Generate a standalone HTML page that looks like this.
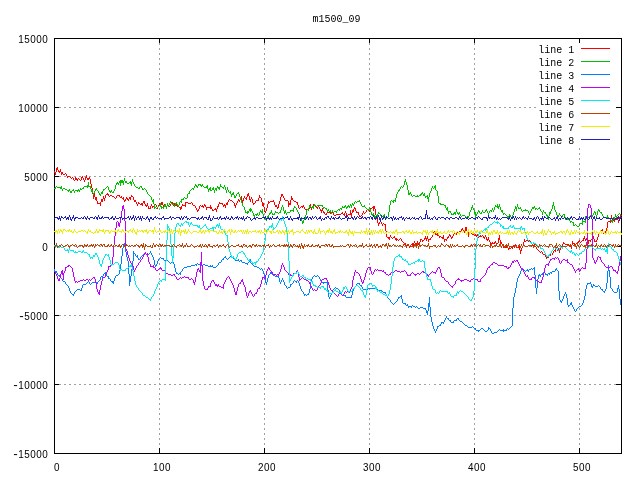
<!DOCTYPE html><html><head><meta charset="utf-8"><title>m1500_09</title><style>html,body{margin:0;padding:0;background:#fff}svg{display:block}text{font-family:"Liberation Mono","DejaVu Sans Mono",monospace;font-size:12px;fill:#000}text.s{font-family:"Liberation Sans","DejaVu Sans",sans-serif;font-size:11px;letter-spacing:0.55px}tspan.m{font-family:"Liberation Mono",monospace;font-size:13px;letter-spacing:-0.8px}</style></head><body>
<svg width="640" height="480" viewBox="0 0 640 480">
<rect width="640" height="480" fill="#fff"/>
<path d="M54 107.5H621M54 176.5H621M54 246.5H621M54 315.5H621M54 384.5H621M159.5 38V453M264.5 38V453M369.5 38V453M474.5 38V453M579.5 38V453" stroke="#a0a0a0" stroke-width="1" stroke-dasharray="1.5 3.5" fill="none" shape-rendering="crispEdges"/>
<rect x="539" y="43" width="82" height="103" fill="#fff"/>
<path d="M54 38.5h5M621 38.5h-5M54 107.5h5M621 107.5h-5M54 176.5h5M621 176.5h-5M54 246.5h5M621 246.5h-5M54 315.5h5M621 315.5h-5M54 384.5h5M621 384.5h-5M54 453.5h5M621 453.5h-5M54.5 453v-5M54.5 38v5M159.5 453v-5M159.5 38v5M264.5 453v-5M264.5 38v5M369.5 453v-5M369.5 38v5M474.5 453v-5M474.5 38v5M579.5 453v-5M579.5 38v5" stroke="#000" stroke-width="1" fill="none" shape-rendering="crispEdges"/>
<rect x="54.5" y="38.5" width="567" height="415" fill="none" stroke="#000" stroke-width="1" shape-rendering="crispEdges"/>
<text class="s" transform="translate(48.2 42.9) scale(0.9 1)" text-anchor="end">15000</text>
<text class="s" transform="translate(48.2 111.9) scale(0.9 1)" text-anchor="end">10000</text>
<text class="s" transform="translate(48.2 180.9) scale(0.9 1)" text-anchor="end">5000</text>
<text class="s" transform="translate(48.2 250.9) scale(0.9 1)" text-anchor="end">0</text>
<text class="s" transform="translate(48.2 319.9) scale(0.9 1)" text-anchor="end"><tspan class="m">-</tspan>5000</text>
<text class="s" transform="translate(48.2 388.9) scale(0.9 1)" text-anchor="end"><tspan class="m">-</tspan>10000</text>
<text class="s" transform="translate(48.2 457.9) scale(0.9 1)" text-anchor="end"><tspan class="m">-</tspan>15000</text>
<text class="s" transform="translate(57.0 471.0) scale(0.9 1)" text-anchor="middle">0</text>
<text class="s" transform="translate(162.0 471.0) scale(0.9 1)" text-anchor="middle">100</text>
<text class="s" transform="translate(267.0 471.0) scale(0.9 1)" text-anchor="middle">200</text>
<text class="s" transform="translate(372.0 471.0) scale(0.9 1)" text-anchor="middle">300</text>
<text class="s" transform="translate(477.0 471.0) scale(0.9 1)" text-anchor="middle">400</text>
<text class="s" transform="translate(582.0 471.0) scale(0.9 1)" text-anchor="middle">500</text>
<text transform="translate(336.5 22.0) scale(0.8333 0.96)" text-anchor="middle">m1500_09</text>
<text transform="translate(574.2 52.6) scale(0.8333 0.96)" text-anchor="end">line 1</text>
<path d="M581 48.5H610" stroke="#ff0000" stroke-width="1" fill="none" shape-rendering="crispEdges"/>
<text transform="translate(574.2 65.6) scale(0.8333 0.96)" text-anchor="end">line 2</text>
<path d="M581 61.5H610" stroke="#00c000" stroke-width="1" fill="none" shape-rendering="crispEdges"/>
<text transform="translate(574.2 78.6) scale(0.8333 0.96)" text-anchor="end">line 3</text>
<path d="M581 74.5H610" stroke="#0080ff" stroke-width="1" fill="none" shape-rendering="crispEdges"/>
<text transform="translate(574.2 91.6) scale(0.8333 0.96)" text-anchor="end">line 4</text>
<path d="M581 87.5H610" stroke="#c000ff" stroke-width="1" fill="none" shape-rendering="crispEdges"/>
<text transform="translate(574.2 104.6) scale(0.8333 0.96)" text-anchor="end">line 5</text>
<path d="M581 100.5H610" stroke="#00eeee" stroke-width="1" fill="none" shape-rendering="crispEdges"/>
<text transform="translate(574.2 117.6) scale(0.8333 0.96)" text-anchor="end">line 6</text>
<path d="M581 113.5H610" stroke="#c04000" stroke-width="1" fill="none" shape-rendering="crispEdges"/>
<text transform="translate(574.2 130.6) scale(0.8333 0.96)" text-anchor="end">line 7</text>
<path d="M581 126.5H610" stroke="#eeee00" stroke-width="1" fill="none" shape-rendering="crispEdges"/>
<text transform="translate(574.2 143.6) scale(0.8333 0.96)" text-anchor="end">line 8</text>
<path d="M581 139.5H610" stroke="#2020c0" stroke-width="1" fill="none" shape-rendering="crispEdges"/>
<path d="M54.5 171v2M55.5 172v3M56.5 168v4M57.5 167v3M58.5 170v2M59.5 171v2M60.5 169v3M61.5 172v3M62.5 172v2M63.5 174v1M64.5 174v1M65.5 173v1M66.5 174v2M67.5 176v2M68.5 176v1M69.5 176v1M70.5 177v1M71.5 178v1M72.5 177v1M73.5 178v2M74.5 180v1M75.5 177v3M76.5 178v2M77.5 179v2M78.5 178v1M79.5 179v1M80.5 180v1M81.5 177v3M82.5 176v2M83.5 178v2M84.5 180v2M85.5 177v3M86.5 175v3M87.5 178v2M88.5 178v2M89.5 177v2M90.5 179v5M91.5 184v4M92.5 188v6M93.5 194v5M94.5 193v4M95.5 197v3M96.5 197v4M97.5 201v3M98.5 203v1M99.5 203v1M100.5 202v4M101.5 199v3M102.5 199v3M103.5 196v3M104.5 198v3M105.5 195v3M106.5 194v1M107.5 193v2M108.5 194v2M109.5 196v1M110.5 195v1M111.5 195v1M112.5 196v1M113.5 196v1M114.5 197v1M115.5 198v1M116.5 196v2M117.5 195v1M118.5 195v1M119.5 195v2M120.5 197v1M121.5 196v2M122.5 198v1M123.5 197v3M124.5 200v2M125.5 199v2M126.5 197v2M127.5 198v2M128.5 199v2M129.5 197v2M130.5 197v3M131.5 195v2M132.5 196v1M133.5 197v3M134.5 200v2M135.5 200v2M136.5 202v2M137.5 204v2M138.5 202v2M139.5 203v1M140.5 204v1M141.5 203v2M142.5 203v3M143.5 201v2M144.5 201v3M145.5 204v2M146.5 205v2M147.5 203v3M148.5 206v3M149.5 208v1M150.5 206v3M151.5 204v2M152.5 206v2M153.5 206v1M154.5 205v1M155.5 204v1M156.5 205v2M157.5 207v2M158.5 205v2M159.5 203v2M160.5 203v1M161.5 202v3M162.5 202v3M163.5 205v2M164.5 204v1M165.5 205v1M166.5 206v2M167.5 204v2M168.5 206v1M169.5 206v1M170.5 204v2M171.5 202v2M172.5 202v2M173.5 204v2M174.5 203v2M175.5 205v1M176.5 204v2M177.5 206v1M178.5 206v1M179.5 207v1M180.5 207v3M181.5 206v3M182.5 204v2M183.5 205v1M184.5 205v1M185.5 202v5M186.5 202v1M187.5 202v1M188.5 203v1M189.5 203v1M190.5 203v1M191.5 202v1M192.5 203v2M193.5 205v1M194.5 205v1M195.5 206v2M196.5 208v2M197.5 210v2M198.5 209v2M199.5 206v3M200.5 205v1M201.5 206v1M202.5 205v2M203.5 206v2M204.5 204v2M205.5 205v2M206.5 207v3M207.5 207v1M208.5 207v1M209.5 207v1M210.5 205v4M211.5 207v2M212.5 209v2M213.5 210v1M214.5 209v1M215.5 208v2M216.5 209v3M217.5 206v3M218.5 204v3M219.5 202v2M220.5 203v1M221.5 203v1M222.5 203v2M223.5 205v2M224.5 204v2M225.5 205v3M226.5 203v2M227.5 202v3M228.5 200v2M229.5 199v1M230.5 200v1M231.5 200v1M232.5 201v1M233.5 202v1M234.5 203v3M235.5 205v3M236.5 203v2M237.5 201v2M238.5 199v2M239.5 200v2M240.5 197v3M241.5 196v4M242.5 200v3M243.5 198v3M244.5 196v2M245.5 198v1M246.5 197v3M247.5 194v3M248.5 193v3M249.5 196v4M250.5 199v3M251.5 197v2M252.5 199v4M253.5 203v2M254.5 203v1M255.5 201v2M256.5 200v1M257.5 200v1M258.5 198v3M259.5 195v3M260.5 197v1M261.5 198v4M262.5 202v4M263.5 203v4M264.5 207v5M265.5 211v2M266.5 208v3M267.5 204v4M268.5 201v3M269.5 202v1M270.5 201v1M271.5 201v1M272.5 201v1M273.5 200v2M274.5 202v3M275.5 205v2M276.5 205v2M277.5 207v2M278.5 204v4M279.5 201v3M280.5 197v4M281.5 194v3M282.5 194v2M283.5 196v2M284.5 198v2M285.5 200v1M286.5 200v1M287.5 200v1M288.5 201v6M289.5 203v2M290.5 200v5M291.5 196v4M292.5 198v2M293.5 200v1M294.5 201v1M295.5 201v1M296.5 202v1M297.5 202v3M298.5 205v3M299.5 208v1M300.5 207v1M301.5 206v1M302.5 206v2M303.5 205v2M304.5 207v2M305.5 209v1M306.5 209v1M307.5 209v1M308.5 209v1M309.5 208v1M310.5 204v4M311.5 207v3M312.5 206v2M313.5 204v2M314.5 204v1M315.5 205v2M316.5 207v1M317.5 207v2M318.5 205v2M319.5 207v2M320.5 209v2M321.5 210v3M322.5 208v3M323.5 211v2M324.5 212v2M325.5 214v1M326.5 213v2M327.5 212v1M328.5 212v1M329.5 212v1M330.5 212v2M331.5 212v1M332.5 211v2M333.5 213v2M334.5 215v1M335.5 215v1M336.5 214v1M337.5 214v1M338.5 214v1M339.5 214v1M340.5 214v1M341.5 213v1M342.5 212v2M343.5 214v1M344.5 213v3M345.5 211v2M346.5 213v2M347.5 215v2M348.5 214v1M349.5 214v1M350.5 210v5M351.5 213v4M352.5 210v3M353.5 209v3M354.5 207v2M355.5 208v3M356.5 211v2M357.5 212v1M358.5 212v3M359.5 215v2M360.5 216v1M361.5 215v1M362.5 213v2M363.5 211v2M364.5 213v1M365.5 212v1M366.5 210v2M367.5 209v1M368.5 209v2M369.5 210v2M370.5 208v2M371.5 208v1M372.5 207v1M373.5 206v5M374.5 206v3M375.5 209v6M376.5 215v4M377.5 219v4M378.5 223v3M379.5 222v2M380.5 221v1M381.5 222v2M382.5 224v2M383.5 223v1M384.5 224v1M385.5 224v7M386.5 231v6M387.5 237v1M388.5 237v2M389.5 237v3M390.5 235v2M391.5 237v1M392.5 238v1M393.5 237v1M394.5 236v2M395.5 238v2M396.5 238v3M397.5 239v1M398.5 240v1M399.5 239v1M400.5 238v1M401.5 239v2M402.5 241v1M403.5 242v1M404.5 243v1M405.5 243v3M406.5 246v2M407.5 245v1M408.5 244v2M409.5 246v2M410.5 245v2M411.5 244v1M412.5 243v2M413.5 243v3M414.5 241v2M415.5 243v2M416.5 243v2M417.5 241v2M418.5 243v2M419.5 242v2M420.5 239v3M421.5 239v1M422.5 240v2M423.5 240v1M424.5 238v2M425.5 236v3M426.5 238v3M427.5 236v3M428.5 239v3M429.5 239v1M430.5 238v2M431.5 237v1M432.5 235v2M433.5 232v3M434.5 231v2M435.5 233v2M436.5 234v1M437.5 233v3M438.5 234v2M439.5 236v2M440.5 236v1M441.5 237v1M442.5 237v2M443.5 235v4M444.5 239v3M445.5 239v1M446.5 239v2M447.5 237v2M448.5 236v2M449.5 234v2M450.5 235v2M451.5 237v2M452.5 236v2M453.5 234v2M454.5 233v1M455.5 233v1M456.5 233v2M457.5 232v1M458.5 232v2M459.5 231v1M460.5 231v1M461.5 229v2M462.5 228v2M463.5 230v2M464.5 230v3M465.5 227v4M466.5 227v4M467.5 231v3M468.5 231v6M469.5 233v2M470.5 231v2M471.5 233v1M472.5 234v1M473.5 233v2M474.5 235v1M475.5 234v2M476.5 235v2M477.5 234v2M478.5 236v2M479.5 236v1M480.5 235v2M481.5 236v1M482.5 235v1M483.5 236v2M484.5 237v2M485.5 235v2M486.5 237v3M487.5 239v2M488.5 237v3M489.5 240v2M490.5 242v3M491.5 244v2M492.5 242v2M493.5 243v1M494.5 242v2M495.5 241v2M496.5 243v2M497.5 243v1M498.5 238v5M499.5 235v5M500.5 240v5M501.5 242v2M502.5 244v2M503.5 246v2M504.5 247v1M505.5 247v1M506.5 246v2M507.5 245v3M508.5 248v2M509.5 248v1M510.5 248v1M511.5 247v1M512.5 247v2M513.5 245v2M514.5 246v2M515.5 244v2M516.5 246v2M517.5 247v1M518.5 247v1M519.5 246v4M520.5 250v4M521.5 248v3M522.5 246v2M523.5 242v4M524.5 239v3M525.5 241v1M526.5 240v1M527.5 239v2M528.5 241v1M529.5 240v1M530.5 241v2M531.5 243v1M532.5 244v1M533.5 245v2M534.5 244v2M535.5 246v1M536.5 247v2M537.5 249v1M538.5 250v1M539.5 251v1M540.5 252v1M541.5 251v1M542.5 252v2M543.5 254v1M544.5 254v1M545.5 254v3M546.5 257v2M547.5 257v1M548.5 256v2M549.5 254v2M550.5 253v3M551.5 251v2M552.5 253v2M553.5 251v2M554.5 250v1M555.5 249v3M556.5 247v2M557.5 249v2M558.5 248v3M559.5 250v3M560.5 247v3M561.5 246v1M562.5 244v3M563.5 242v2M564.5 243v1M565.5 244v1M566.5 244v1M567.5 244v1M568.5 244v1M569.5 245v1M570.5 245v2M571.5 245v4M572.5 241v4M573.5 243v1M574.5 243v2M575.5 244v2M576.5 243v1M577.5 242v1M578.5 241v2M579.5 240v2M580.5 242v1M581.5 241v1M582.5 240v1M583.5 238v3M584.5 236v3M585.5 239v2M586.5 238v2M587.5 240v2M588.5 240v4M589.5 240v1M590.5 240v2M591.5 239v1M592.5 238v2M593.5 236v3M594.5 239v3M595.5 241v1M596.5 240v2M597.5 237v3M598.5 234v3M599.5 232v2M600.5 230v2M601.5 230v1M602.5 229v3M603.5 232v2M604.5 231v1M605.5 231v2M606.5 228v6M607.5 222v6M608.5 221v1M609.5 221v1M610.5 219v4M611.5 215v4M612.5 218v2M613.5 219v2M614.5 220v2M615.5 219v1M616.5 218v2M617.5 217v3M618.5 220v3M619.5 217v4M620.5 215v2M621.5 215v1" stroke="#ff0000" stroke-width="1" fill="none" shape-rendering="crispEdges"/>
<path d="M54.5 188v1M55.5 187v2M56.5 186v1M57.5 187v1M58.5 187v1M59.5 187v1M60.5 187v2M61.5 186v3M62.5 189v2M63.5 188v1M64.5 188v1M65.5 189v1M66.5 189v1M67.5 190v1M68.5 190v2M69.5 189v2M70.5 191v2M71.5 191v2M72.5 190v1M73.5 189v2M74.5 191v2M75.5 190v1M76.5 190v1M77.5 190v2M78.5 189v2M79.5 190v2M80.5 188v2M81.5 189v1M82.5 188v1M83.5 187v2M84.5 186v1M85.5 186v1M86.5 186v1M87.5 185v3M88.5 182v5M89.5 186v1M90.5 186v3M91.5 189v3M92.5 190v3M93.5 193v2M94.5 191v2M95.5 189v2M96.5 188v2M97.5 190v1M98.5 191v2M99.5 193v2M100.5 194v2M101.5 192v2M102.5 191v3M103.5 189v2M104.5 189v1M105.5 188v1M106.5 187v1M107.5 186v1M108.5 187v3M109.5 190v2M110.5 191v2M111.5 190v2M112.5 192v1M113.5 191v2M114.5 189v2M115.5 185v4M116.5 183v2M117.5 182v2M118.5 183v2M119.5 181v2M120.5 180v6M121.5 180v3M122.5 180v3M123.5 181v4M124.5 178v3M125.5 181v2M126.5 181v2M127.5 183v1M128.5 183v1M129.5 182v1M130.5 181v3M131.5 182v4M132.5 179v3M133.5 182v2M134.5 184v2M135.5 186v1M136.5 187v1M137.5 187v1M138.5 188v1M139.5 187v2M140.5 186v1M141.5 186v2M142.5 188v2M143.5 189v1M144.5 188v1M145.5 189v1M146.5 190v2M147.5 192v2M148.5 194v1M149.5 195v1M150.5 196v1M151.5 197v3M152.5 200v2M153.5 199v5M154.5 204v5M155.5 207v1M156.5 208v1M157.5 207v1M158.5 206v1M159.5 205v1M160.5 203v4M161.5 206v3M162.5 207v1M163.5 207v2M164.5 205v2M165.5 204v3M166.5 206v3M167.5 203v3M168.5 205v2M169.5 203v2M170.5 201v2M171.5 203v1M172.5 204v1M173.5 203v2M174.5 205v2M175.5 203v2M176.5 202v2M177.5 204v2M178.5 205v2M179.5 202v3M180.5 201v1M181.5 199v4M182.5 199v1M183.5 198v2M184.5 197v1M185.5 198v1M186.5 198v1M187.5 194v4M188.5 193v1M189.5 191v3M190.5 190v1M191.5 189v1M192.5 188v1M193.5 188v2M194.5 186v2M195.5 184v2M196.5 185v2M197.5 186v2M198.5 184v2M199.5 184v1M200.5 184v2M201.5 185v2M202.5 184v2M203.5 186v1M204.5 187v1M205.5 187v1M206.5 186v2M207.5 185v4M208.5 189v3M209.5 188v2M210.5 187v4M211.5 190v1M212.5 188v2M213.5 187v3M214.5 190v3M215.5 188v2M216.5 188v3M217.5 186v2M218.5 187v2M219.5 187v3M220.5 184v3M221.5 186v1M222.5 187v1M223.5 187v2M224.5 185v2M225.5 187v3M226.5 190v3M227.5 187v3M228.5 190v2M229.5 192v1M230.5 191v3M231.5 194v3M232.5 193v2M233.5 192v3M234.5 195v3M235.5 196v2M236.5 194v2M237.5 193v1M238.5 192v2M239.5 194v3M240.5 197v3M241.5 200v3M242.5 203v3M243.5 206v1M244.5 207v3M245.5 210v3M246.5 212v1M247.5 211v3M248.5 211v2M249.5 209v2M250.5 208v4M251.5 209v2M252.5 211v2M253.5 213v3M254.5 215v2M255.5 214v1M256.5 214v2M257.5 213v2M258.5 215v1M259.5 212v3M260.5 210v2M261.5 211v2M262.5 209v5M263.5 214v4M264.5 217v1M265.5 218v2M266.5 218v3M267.5 216v2M268.5 215v3M269.5 213v2M270.5 212v2M271.5 210v3M272.5 213v2M273.5 214v1M274.5 213v2M275.5 211v2M276.5 212v1M277.5 212v1M278.5 213v1M279.5 212v1M280.5 210v3M281.5 207v3M282.5 205v2M283.5 207v4M284.5 211v3M285.5 210v3M286.5 213v2M287.5 212v1M288.5 212v1M289.5 212v1M290.5 210v2M291.5 210v1M292.5 210v1M293.5 208v4M294.5 206v2M295.5 207v1M296.5 208v2M297.5 210v2M298.5 212v2M299.5 214v4M300.5 218v2M301.5 217v4M302.5 221v3M303.5 220v3M304.5 218v2M305.5 215v5M306.5 210v5M307.5 209v1M308.5 208v3M309.5 205v3M310.5 206v1M311.5 207v1M312.5 206v2M313.5 206v3M314.5 204v2M315.5 205v1M316.5 206v1M317.5 205v1M318.5 205v1M319.5 205v1M320.5 205v1M321.5 205v1M322.5 205v2M323.5 207v2M324.5 207v1M325.5 208v1M326.5 208v2M327.5 210v2M328.5 209v2M329.5 211v1M330.5 210v2M331.5 212v2M332.5 210v2M333.5 212v1M334.5 211v1M335.5 211v1M336.5 211v2M337.5 210v1M338.5 209v1M339.5 209v2M340.5 208v1M341.5 208v2M342.5 206v2M343.5 207v1M344.5 206v2M345.5 205v2M346.5 207v2M347.5 206v2M348.5 205v2M349.5 206v2M350.5 204v2M351.5 205v3M352.5 203v2M353.5 204v2M354.5 202v2M355.5 201v1M356.5 202v1M357.5 201v1M358.5 201v1M359.5 200v2M360.5 202v2M361.5 204v2M362.5 206v1M363.5 206v1M364.5 205v2M365.5 207v1M366.5 208v1M367.5 209v1M368.5 209v2M369.5 207v2M370.5 209v3M371.5 212v3M372.5 214v2M373.5 213v2M374.5 215v2M375.5 216v2M376.5 215v1M377.5 214v3M378.5 212v2M379.5 213v1M380.5 214v2M381.5 216v1M382.5 216v1M383.5 215v2M384.5 214v3M385.5 217v2M386.5 218v1M387.5 217v1M388.5 212v5M389.5 205v7M390.5 201v4M391.5 200v1M392.5 201v1M393.5 200v3M394.5 200v1M395.5 198v4M396.5 194v4M397.5 192v2M398.5 190v2M399.5 189v2M400.5 187v2M401.5 186v1M402.5 187v1M403.5 185v2M404.5 181v4M405.5 179v3M406.5 182v3M407.5 185v5M408.5 190v5M409.5 193v2M410.5 192v2M411.5 194v2M412.5 196v1M413.5 195v1M414.5 195v1M415.5 196v1M416.5 196v1M417.5 195v2M418.5 196v1M419.5 195v1M420.5 194v2M421.5 193v2M422.5 192v2M423.5 194v2M424.5 193v3M425.5 196v2M426.5 196v1M427.5 195v4M428.5 197v5M429.5 193v4M430.5 191v2M431.5 188v3M432.5 186v2M433.5 188v1M434.5 186v2M435.5 185v5M436.5 190v1M437.5 191v5M438.5 196v7M439.5 203v1M440.5 203v2M441.5 204v1M442.5 204v1M443.5 204v1M444.5 205v1M445.5 205v3M446.5 208v2M447.5 207v4M448.5 211v3M449.5 211v1M450.5 211v2M451.5 213v2M452.5 214v1M453.5 213v2M454.5 212v2M455.5 212v3M456.5 209v3M457.5 212v2M458.5 213v2M459.5 212v2M460.5 214v2M461.5 216v1M462.5 215v1M463.5 215v1M464.5 215v1M465.5 216v1M466.5 217v1M467.5 216v1M468.5 216v2M469.5 212v4M470.5 210v2M471.5 207v3M472.5 205v3M473.5 208v2M474.5 210v4M475.5 212v6M476.5 214v2M477.5 212v2M478.5 210v2M479.5 211v2M480.5 213v1M481.5 212v2M482.5 210v2M483.5 212v1M484.5 212v1M485.5 210v2M486.5 209v2M487.5 211v2M488.5 213v2M489.5 211v2M490.5 210v1M491.5 210v2M492.5 208v2M493.5 210v2M494.5 207v3M495.5 205v2M496.5 206v1M497.5 204v4M498.5 206v3M499.5 204v3M500.5 207v3M501.5 210v2M502.5 210v3M503.5 213v2M504.5 213v1M505.5 214v1M506.5 215v1M507.5 216v2M508.5 216v3M509.5 214v2M510.5 215v2M511.5 217v1M512.5 215v2M513.5 212v3M514.5 209v3M515.5 206v3M516.5 207v4M517.5 204v3M518.5 207v2M519.5 208v1M520.5 207v2M521.5 209v2M522.5 211v1M523.5 210v1M524.5 210v1M525.5 209v2M526.5 210v1M527.5 210v1M528.5 211v2M529.5 213v2M530.5 211v2M531.5 209v2M532.5 207v2M533.5 207v2M534.5 206v2M535.5 208v2M536.5 208v1M537.5 209v1M538.5 208v1M539.5 207v2M540.5 209v2M541.5 211v1M542.5 212v3M543.5 210v2M544.5 212v1M545.5 212v2M546.5 214v2M547.5 215v3M548.5 216v4M549.5 212v4M550.5 211v3M551.5 209v2M552.5 205v4M553.5 202v4M554.5 206v4M555.5 210v2M556.5 212v3M557.5 215v2M558.5 215v2M559.5 213v2M560.5 215v1M561.5 216v1M562.5 215v2M563.5 214v1M564.5 214v3M565.5 217v3M566.5 218v1M567.5 217v3M568.5 219v1M569.5 218v3M570.5 221v2M571.5 221v1M572.5 222v1M573.5 222v4M574.5 225v1M575.5 224v1M576.5 225v1M577.5 226v1M578.5 226v1M579.5 224v2M580.5 223v1M581.5 223v1M582.5 220v5M583.5 221v1M584.5 221v1M585.5 216v7M586.5 218v1M587.5 218v2M588.5 217v1M589.5 216v1M590.5 215v1M591.5 215v1M592.5 215v2M593.5 213v2M594.5 211v2M595.5 212v3M596.5 215v2M597.5 211v4M598.5 209v2M599.5 210v2M600.5 212v1M601.5 212v2M602.5 214v2M603.5 216v2M604.5 217v1M605.5 217v1M606.5 217v1M607.5 215v3M608.5 217v1M609.5 218v1M610.5 219v1M611.5 220v2M612.5 220v3M613.5 217v3M614.5 217v3M615.5 214v3M616.5 216v2M617.5 215v1M618.5 214v1M619.5 213v1M620.5 214v1" stroke="#00c000" stroke-width="1" fill="none" shape-rendering="crispEdges"/>
<path d="M54.5 269v2M55.5 271v1M56.5 271v2M57.5 273v2M58.5 275v1M59.5 275v2M60.5 277v1M61.5 278v1M62.5 279v2M63.5 281v1M64.5 281v1M65.5 282v2M66.5 284v1M67.5 285v1M68.5 286v2M69.5 288v3M70.5 291v2M71.5 293v1M72.5 294v1M73.5 294v2M74.5 292v2M75.5 291v1M76.5 290v1M77.5 289v1M78.5 289v1M79.5 289v1M80.5 290v1M81.5 288v3M82.5 285v3M83.5 284v1M84.5 284v1M85.5 284v1M86.5 283v1M87.5 282v1M88.5 281v1M89.5 282v2M90.5 284v1M91.5 283v1M92.5 282v1M93.5 282v1M94.5 282v1M95.5 282v1M96.5 282v1M97.5 282v2M98.5 281v1M99.5 280v1M100.5 277v3M101.5 276v1M102.5 276v2M103.5 274v2M104.5 273v1M105.5 272v2M106.5 274v2M107.5 276v1M108.5 276v3M109.5 278v1M110.5 279v2M111.5 281v1M112.5 281v2M113.5 281v3M114.5 278v3M115.5 276v2M116.5 275v1M117.5 275v1M118.5 274v1M119.5 270v4M120.5 264v6M121.5 256v8M122.5 248v8M123.5 245v3M124.5 243v2M125.5 242v10M126.5 252v5M127.5 257v4M128.5 261v13M129.5 274v12M130.5 276v6M131.5 269v7M132.5 261v8M133.5 251v10M134.5 253v1M135.5 254v2M136.5 256v1M137.5 255v3M138.5 258v2M139.5 259v1M140.5 257v2M141.5 256v1M142.5 255v1M143.5 254v1M144.5 253v1M145.5 252v2M146.5 254v1M147.5 255v1M148.5 254v1M149.5 253v1M150.5 251v2M151.5 253v2M152.5 255v2M153.5 257v3M154.5 260v5M155.5 265v2M156.5 264v2M157.5 261v3M158.5 259v2M159.5 258v1M160.5 257v1M161.5 258v1M162.5 258v1M163.5 258v2M164.5 260v1M165.5 260v1M166.5 259v2M167.5 260v1M168.5 261v1M169.5 262v1M170.5 263v1M171.5 262v1M172.5 262v1M173.5 262v2M174.5 264v4M175.5 268v4M176.5 272v2M177.5 273v1M178.5 274v1M179.5 273v1M180.5 272v3M181.5 271v1M182.5 269v2M183.5 268v1M184.5 267v1M185.5 267v1M186.5 267v1M187.5 266v1M188.5 266v1M189.5 266v1M190.5 266v1M191.5 265v1M192.5 265v1M193.5 265v1M194.5 265v1M195.5 264v1M196.5 264v2M197.5 263v1M198.5 264v1M199.5 264v1M200.5 264v1M201.5 265v1M202.5 265v1M203.5 264v1M204.5 264v1M205.5 265v1M206.5 265v1M207.5 265v1M208.5 266v1M209.5 266v1M210.5 265v2M211.5 266v1M212.5 265v2M213.5 267v1M214.5 267v1M215.5 267v1M216.5 266v1M217.5 265v1M218.5 263v2M219.5 262v1M220.5 262v1M221.5 260v2M222.5 259v1M223.5 258v2M224.5 257v1M225.5 256v2M226.5 258v1M227.5 259v1M228.5 258v1M229.5 257v1M230.5 256v1M231.5 255v2M232.5 257v1M233.5 258v1M234.5 259v1M235.5 260v1M236.5 260v1M237.5 260v1M238.5 259v2M239.5 261v1M240.5 260v1M241.5 260v2M242.5 262v1M243.5 262v1M244.5 262v1M245.5 263v1M246.5 263v1M247.5 263v2M248.5 262v1M249.5 260v2M250.5 259v4M251.5 263v1M252.5 264v1M253.5 265v1M254.5 266v1M255.5 266v1M256.5 266v1M257.5 267v1M258.5 267v1M259.5 268v1M260.5 269v1M261.5 268v1M262.5 269v2M263.5 271v3M264.5 274v5M265.5 279v4M266.5 282v3M267.5 278v4M268.5 275v3M269.5 274v1M270.5 272v2M271.5 271v3M272.5 274v1M273.5 275v1M274.5 275v1M275.5 276v1M276.5 276v1M277.5 276v1M278.5 275v3M279.5 278v4M280.5 282v2M281.5 280v2M282.5 278v2M283.5 280v2M284.5 282v3M285.5 285v1M286.5 286v2M287.5 288v1M288.5 287v1M289.5 287v1M290.5 284v3M291.5 284v1M292.5 283v1M293.5 281v2M294.5 280v1M295.5 281v1M296.5 281v2M297.5 280v1M298.5 281v2M299.5 283v3M300.5 286v3M301.5 289v2M302.5 291v1M303.5 292v2M304.5 294v2M305.5 294v1M306.5 295v1M307.5 294v1M308.5 293v2M309.5 289v4M310.5 282v7M311.5 279v3M312.5 277v2M313.5 276v1M314.5 275v1M315.5 276v1M316.5 276v1M317.5 275v1M318.5 276v1M319.5 277v2M320.5 279v2M321.5 281v2M322.5 282v1M323.5 282v2M324.5 282v1M325.5 282v1M326.5 282v1M327.5 282v8M328.5 290v7M329.5 297v2M330.5 295v2M331.5 293v2M332.5 290v3M333.5 289v1M334.5 288v1M335.5 287v1M336.5 288v1M337.5 288v1M338.5 289v1M339.5 290v2M340.5 292v2M341.5 294v1M342.5 295v1M343.5 295v1M344.5 295v1M345.5 295v2M346.5 297v1M347.5 297v1M348.5 297v1M349.5 297v1M350.5 297v1M351.5 295v3M352.5 291v4M353.5 289v2M354.5 287v2M355.5 286v1M356.5 284v2M357.5 283v1M358.5 283v1M359.5 283v2M360.5 285v1M361.5 285v2M362.5 287v2M363.5 289v1M364.5 289v1M365.5 289v1M366.5 289v1M367.5 289v1M368.5 288v1M369.5 288v1M370.5 288v1M371.5 288v1M372.5 288v1M373.5 288v1M374.5 288v1M375.5 288v1M376.5 289v1M377.5 289v1M378.5 290v1M379.5 290v1M380.5 290v1M381.5 290v1M382.5 291v1M383.5 292v1M384.5 292v1M385.5 292v2M386.5 294v2M387.5 296v2M388.5 298v1M389.5 299v1M390.5 300v2M391.5 302v1M392.5 303v1M393.5 304v1M394.5 303v1M395.5 302v1M396.5 301v1M397.5 299v2M398.5 297v2M399.5 297v1M400.5 296v1M401.5 295v4M402.5 299v4M403.5 303v1M404.5 303v1M405.5 303v2M406.5 305v1M407.5 304v2M408.5 306v2M409.5 306v1M410.5 306v1M411.5 306v2M412.5 305v1M413.5 306v1M414.5 306v1M415.5 307v1M416.5 306v1M417.5 307v1M418.5 308v1M419.5 308v1M420.5 307v1M421.5 307v1M422.5 307v1M423.5 308v1M424.5 308v1M425.5 308v2M426.5 310v3M427.5 311v4M428.5 303v8M429.5 297v10M430.5 307v10M431.5 317v5M432.5 322v4M433.5 326v3M434.5 329v2M435.5 331v2M436.5 329v2M437.5 326v3M438.5 326v1M439.5 325v1M440.5 324v2M441.5 322v2M442.5 322v1M443.5 322v2M444.5 320v2M445.5 318v2M446.5 316v2M447.5 318v1M448.5 318v2M449.5 320v1M450.5 320v2M451.5 322v1M452.5 322v1M453.5 321v2M454.5 320v1M455.5 320v1M456.5 319v2M457.5 318v1M458.5 318v2M459.5 320v1M460.5 321v1M461.5 321v1M462.5 322v1M463.5 323v1M464.5 324v1M465.5 325v1M466.5 325v1M467.5 326v1M468.5 327v1M469.5 327v1M470.5 327v1M471.5 327v1M472.5 326v1M473.5 327v1M474.5 328v1M475.5 328v2M476.5 330v1M477.5 330v1M478.5 330v2M479.5 330v1M480.5 329v1M481.5 328v1M482.5 328v1M483.5 329v1M484.5 330v1M485.5 331v1M486.5 331v1M487.5 330v1M488.5 327v3M489.5 328v1M490.5 329v2M491.5 331v2M492.5 333v1M493.5 333v1M494.5 332v1M495.5 332v1M496.5 332v1M497.5 331v1M498.5 330v1M499.5 329v1M500.5 330v1M501.5 330v1M502.5 330v1M503.5 329v3M504.5 330v1M505.5 330v1M506.5 329v2M507.5 328v1M508.5 329v1M509.5 328v1M510.5 327v1M511.5 326v1M512.5 308v18M513.5 297v11M514.5 293v4M515.5 288v5M516.5 282v6M517.5 278v4M518.5 276v2M519.5 274v2M520.5 271v3M521.5 269v2M522.5 268v2M523.5 270v1M524.5 270v1M525.5 271v1M526.5 270v1M527.5 269v2M528.5 270v2M529.5 269v1M530.5 269v1M531.5 268v1M532.5 269v1M533.5 268v1M534.5 267v8M535.5 275v13M536.5 288v6M537.5 279v9M538.5 275v4M539.5 274v2M540.5 275v2M541.5 274v1M542.5 273v2M543.5 272v1M544.5 271v2M545.5 273v2M546.5 274v1M547.5 274v2M548.5 273v1M549.5 273v2M550.5 272v1M551.5 272v2M552.5 271v1M553.5 271v1M554.5 271v1M555.5 269v2M556.5 268v2M557.5 270v1M558.5 271v20M559.5 291v9M560.5 300v2M561.5 301v2M562.5 299v2M563.5 296v3M564.5 294v2M565.5 292v2M566.5 294v4M567.5 298v7M568.5 305v2M569.5 305v1M570.5 303v2M571.5 302v3M572.5 305v2M573.5 307v2M574.5 309v2M575.5 311v1M576.5 309v2M577.5 308v1M578.5 307v1M579.5 306v1M580.5 306v1M581.5 305v1M582.5 303v2M583.5 300v3M584.5 296v4M585.5 289v7M586.5 285v4M587.5 283v2M588.5 283v1M589.5 283v1M590.5 282v2M591.5 284v3M592.5 286v2M593.5 284v2M594.5 285v1M595.5 286v1M596.5 286v1M597.5 286v1M598.5 285v1M599.5 286v1M600.5 287v2M601.5 289v1M602.5 289v2M603.5 291v1M604.5 291v2M605.5 289v2M606.5 283v6M607.5 271v12M608.5 265v6M609.5 270v7M610.5 277v11M611.5 288v1M612.5 289v2M613.5 291v1M614.5 292v1M615.5 292v1M616.5 292v1M617.5 288v4M618.5 285v4M619.5 289v10M620.5 299v6" stroke="#0080ff" stroke-width="1" fill="none" shape-rendering="crispEdges"/>
<path d="M54.5 271v1M55.5 272v2M56.5 274v2M57.5 276v3M58.5 279v2M59.5 278v3M60.5 274v4M61.5 271v3M62.5 270v5M63.5 273v7M64.5 271v2M65.5 267v4M66.5 267v1M67.5 266v1M68.5 265v2M69.5 265v1M70.5 266v1M71.5 267v1M72.5 268v4M73.5 272v5M74.5 277v4M75.5 281v2M76.5 281v1M77.5 282v1M78.5 281v1M79.5 281v1M80.5 280v1M81.5 280v1M82.5 280v1M83.5 279v1M84.5 280v1M85.5 280v1M86.5 279v1M87.5 279v1M88.5 280v1M89.5 279v1M90.5 280v1M91.5 279v1M92.5 278v1M93.5 277v1M94.5 277v2M95.5 279v4M96.5 283v6M97.5 289v3M98.5 292v2M99.5 290v5M100.5 285v5M101.5 281v4M102.5 278v3M103.5 277v1M104.5 277v1M105.5 274v3M106.5 272v2M107.5 270v2M108.5 266v4M109.5 266v1M110.5 265v2M111.5 264v1M112.5 257v7M113.5 245v12M114.5 236v9M115.5 228v8M116.5 222v6M117.5 221v1M118.5 222v4M119.5 223v4M120.5 217v6M121.5 211v6M122.5 206v5M123.5 205v4M124.5 209v12M125.5 221v28M126.5 249v2M127.5 251v4M128.5 255v3M129.5 258v3M130.5 261v2M131.5 263v1M132.5 264v2M133.5 266v4M134.5 270v2M135.5 268v2M136.5 266v2M137.5 265v1M138.5 263v2M139.5 262v1M140.5 260v2M141.5 259v1M142.5 257v2M143.5 255v2M144.5 253v2M145.5 252v2M146.5 254v1M147.5 253v4M148.5 257v5M149.5 262v2M150.5 264v3M151.5 266v1M152.5 266v1M153.5 265v3M154.5 267v1M155.5 268v2M156.5 270v1M157.5 270v1M158.5 269v1M159.5 268v1M160.5 267v2M161.5 268v2M162.5 270v1M163.5 270v1M164.5 270v1M165.5 271v2M166.5 273v1M167.5 273v1M168.5 274v1M169.5 274v1M170.5 274v1M171.5 275v1M172.5 275v1M173.5 274v1M174.5 274v2M175.5 276v1M176.5 277v2M177.5 279v1M178.5 279v1M179.5 278v1M180.5 277v1M181.5 278v1M182.5 277v1M183.5 277v1M184.5 276v1M185.5 277v1M186.5 277v1M187.5 277v1M188.5 277v2M189.5 279v1M190.5 279v1M191.5 278v1M192.5 279v1M193.5 280v3M194.5 282v3M195.5 277v5M196.5 272v5M197.5 269v3M198.5 268v2M199.5 270v2M200.5 262v11M201.5 252v13M202.5 265v16M203.5 281v5M204.5 286v3M205.5 289v1M206.5 289v1M207.5 288v2M208.5 286v2M209.5 286v1M210.5 283v4M211.5 281v2M212.5 280v1M213.5 280v2M214.5 282v2M215.5 284v2M216.5 284v2M217.5 285v2M218.5 284v2M219.5 286v1M220.5 286v1M221.5 287v1M222.5 287v1M223.5 284v5M224.5 282v2M225.5 280v2M226.5 278v2M227.5 277v1M228.5 276v1M229.5 277v2M230.5 279v2M231.5 281v2M232.5 283v2M233.5 285v3M234.5 288v4M235.5 292v3M236.5 291v4M237.5 287v4M238.5 284v3M239.5 283v1M240.5 282v2M241.5 280v2M242.5 279v3M243.5 282v3M244.5 285v2M245.5 287v5M246.5 292v4M247.5 296v2M248.5 293v3M249.5 291v2M250.5 290v2M251.5 292v2M252.5 294v2M253.5 296v1M254.5 294v2M255.5 293v1M256.5 292v2M257.5 289v3M258.5 288v1M259.5 287v2M260.5 284v3M261.5 280v4M262.5 277v3M263.5 277v1M264.5 278v1M265.5 275v4M266.5 271v4M267.5 269v2M268.5 267v2M269.5 268v2M270.5 270v1M271.5 271v2M272.5 272v2M273.5 274v1M274.5 274v1M275.5 274v1M276.5 275v1M277.5 274v1M278.5 274v2M279.5 272v2M280.5 269v3M281.5 265v4M282.5 263v2M283.5 265v2M284.5 267v3M285.5 270v1M286.5 271v1M287.5 272v1M288.5 273v2M289.5 274v1M290.5 274v2M291.5 275v1M292.5 275v1M293.5 273v2M294.5 273v1M295.5 273v1M296.5 271v2M297.5 270v2M298.5 272v5M299.5 277v4M300.5 279v1M301.5 278v1M302.5 277v1M303.5 278v1M304.5 279v1M305.5 279v1M306.5 280v1M307.5 280v1M308.5 281v1M309.5 282v2M310.5 284v2M311.5 286v2M312.5 288v2M313.5 290v1M314.5 289v1M315.5 290v1M316.5 290v1M317.5 288v2M318.5 286v2M319.5 285v1M320.5 283v2M321.5 280v3M322.5 279v1M323.5 279v1M324.5 278v1M325.5 278v1M326.5 278v2M327.5 280v2M328.5 282v3M329.5 285v3M330.5 288v2M331.5 290v1M332.5 291v1M333.5 292v1M334.5 293v1M335.5 294v1M336.5 295v1M337.5 296v1M338.5 294v2M339.5 293v1M340.5 292v1M341.5 293v2M342.5 295v1M343.5 294v1M344.5 292v2M345.5 291v1M346.5 292v1M347.5 291v1M348.5 291v1M349.5 291v2M350.5 289v2M351.5 287v2M352.5 280v7M353.5 276v4M354.5 272v4M355.5 270v2M356.5 272v1M357.5 272v1M358.5 273v1M359.5 274v2M360.5 276v3M361.5 279v3M362.5 282v2M363.5 280v3M364.5 277v3M365.5 273v4M366.5 270v3M367.5 268v2M368.5 267v1M369.5 267v1M370.5 267v4M371.5 271v3M372.5 274v1M373.5 272v2M374.5 270v2M375.5 269v1M376.5 270v1M377.5 269v1M378.5 270v1M379.5 270v1M380.5 270v1M381.5 270v1M382.5 271v1M383.5 270v2M384.5 272v1M385.5 272v2M386.5 274v1M387.5 274v1M388.5 275v1M389.5 274v1M390.5 273v2M391.5 272v1M392.5 272v1M393.5 272v1M394.5 271v1M395.5 270v1M396.5 270v1M397.5 271v1M398.5 271v1M399.5 271v1M400.5 272v1M401.5 271v1M402.5 271v1M403.5 271v1M404.5 270v1M405.5 271v1M406.5 272v2M407.5 274v2M408.5 275v1M409.5 275v1M410.5 274v2M411.5 273v1M412.5 272v1M413.5 273v1M414.5 274v1M415.5 274v2M416.5 274v1M417.5 273v1M418.5 273v1M419.5 274v1M420.5 273v1M421.5 272v1M422.5 271v1M423.5 271v2M424.5 272v1M425.5 273v1M426.5 273v1M427.5 274v2M428.5 275v2M429.5 274v1M430.5 273v1M431.5 272v1M432.5 271v1M433.5 272v1M434.5 272v1M435.5 272v2M436.5 270v2M437.5 268v2M438.5 267v1M439.5 267v2M440.5 269v4M441.5 273v4M442.5 277v1M443.5 277v1M444.5 278v2M445.5 280v1M446.5 281v1M447.5 281v1M448.5 282v2M449.5 284v1M450.5 285v1M451.5 286v1M452.5 286v2M453.5 285v1M454.5 284v1M455.5 281v3M456.5 280v1M457.5 279v1M458.5 278v2M459.5 279v1M460.5 280v1M461.5 280v2M462.5 280v1M463.5 280v1M464.5 279v1M465.5 279v1M466.5 279v1M467.5 280v1M468.5 280v1M469.5 281v1M470.5 280v2M471.5 279v1M472.5 279v1M473.5 278v1M474.5 279v1M475.5 279v1M476.5 279v1M477.5 279v2M478.5 281v1M479.5 281v1M480.5 279v3M481.5 278v1M482.5 277v1M483.5 276v1M484.5 275v1M485.5 273v2M486.5 270v3M487.5 268v2M488.5 267v1M489.5 266v2M490.5 265v1M491.5 264v1M492.5 263v2M493.5 262v1M494.5 262v1M495.5 263v1M496.5 263v1M497.5 264v1M498.5 265v1M499.5 265v1M500.5 265v1M501.5 265v1M502.5 265v1M503.5 265v1M504.5 266v1M505.5 266v1M506.5 266v2M507.5 268v1M508.5 267v2M509.5 267v1M510.5 265v2M511.5 263v2M512.5 261v2M513.5 261v2M514.5 260v1M515.5 261v1M516.5 260v1M517.5 260v2M518.5 262v2M519.5 264v2M520.5 266v2M521.5 268v1M522.5 269v1M523.5 269v3M524.5 272v2M525.5 274v2M526.5 276v1M527.5 275v2M528.5 277v2M529.5 279v1M530.5 279v1M531.5 278v2M532.5 277v1M533.5 277v1M534.5 277v2M535.5 279v1M536.5 280v1M537.5 281v1M538.5 281v1M539.5 282v1M540.5 282v1M541.5 280v3M542.5 277v3M543.5 273v4M544.5 268v5M545.5 265v3M546.5 264v1M547.5 264v1M548.5 263v3M549.5 261v2M550.5 259v2M551.5 259v1M552.5 258v1M553.5 258v1M554.5 258v2M555.5 257v1M556.5 258v1M557.5 257v1M558.5 258v2M559.5 260v3M560.5 263v1M561.5 261v2M562.5 260v1M563.5 259v1M564.5 259v1M565.5 260v1M566.5 260v1M567.5 259v4M568.5 262v1M569.5 263v1M570.5 264v1M571.5 264v1M572.5 265v2M573.5 267v2M574.5 269v2M575.5 271v2M576.5 270v1M577.5 269v1M578.5 268v2M579.5 270v2M580.5 269v2M581.5 268v1M582.5 267v1M583.5 268v1M584.5 268v1M585.5 263v6M586.5 249v14M587.5 208v41M588.5 204v4M589.5 204v1M590.5 205v3M591.5 208v11M592.5 219v39M593.5 258v2M594.5 260v3M595.5 262v2M596.5 260v2M597.5 257v3M598.5 256v1M599.5 257v1M600.5 257v3M601.5 260v2M602.5 262v1M603.5 263v1M604.5 264v2M605.5 266v1M606.5 267v1M607.5 267v1M608.5 267v2M609.5 267v1M610.5 266v1M611.5 266v1M612.5 267v2M613.5 269v2M614.5 270v1M615.5 270v2M616.5 272v1M617.5 271v3M618.5 266v5M619.5 261v5M620.5 256v5" stroke="#c000ff" stroke-width="1" fill="none" shape-rendering="crispEdges"/>
<path d="M54.5 245v2M55.5 247v1M56.5 246v1M57.5 245v2M58.5 247v1M59.5 247v1M60.5 246v1M61.5 247v1M62.5 247v1M63.5 247v1M64.5 248v2M65.5 250v1M66.5 250v1M67.5 249v2M68.5 250v3M69.5 248v2M70.5 250v1M71.5 250v1M72.5 250v1M73.5 250v2M74.5 252v1M75.5 251v2M76.5 252v1M77.5 252v1M78.5 251v1M79.5 251v1M80.5 251v1M81.5 252v1M82.5 251v2M83.5 250v2M84.5 252v1M85.5 252v1M86.5 252v1M87.5 253v1M88.5 254v1M89.5 254v3M90.5 257v2M91.5 257v1M92.5 257v2M93.5 255v2M94.5 255v2M95.5 253v2M96.5 253v2M97.5 255v2M98.5 257v3M99.5 260v4M100.5 264v2M101.5 264v3M102.5 260v4M103.5 258v2M104.5 256v2M105.5 254v2M106.5 254v1M107.5 255v1M108.5 254v3M109.5 257v3M110.5 260v4M111.5 264v2M112.5 264v1M113.5 264v1M114.5 263v1M115.5 262v1M116.5 262v1M117.5 262v1M118.5 263v2M119.5 265v4M120.5 269v2M121.5 269v1M122.5 270v1M123.5 270v1M124.5 270v1M125.5 269v2M126.5 268v1M127.5 268v1M128.5 267v1M129.5 266v1M130.5 265v2M131.5 264v3M132.5 267v4M133.5 271v5M134.5 276v5M135.5 281v4M136.5 285v2M137.5 287v1M138.5 288v2M139.5 290v1M140.5 291v1M141.5 292v1M142.5 293v2M143.5 295v1M144.5 295v1M145.5 296v1M146.5 297v1M147.5 297v1M148.5 298v1M149.5 299v1M150.5 299v2M151.5 297v2M152.5 296v1M153.5 294v2M154.5 291v3M155.5 289v2M156.5 287v2M157.5 284v3M158.5 282v2M159.5 281v1M160.5 280v1M161.5 280v2M162.5 279v1M163.5 279v1M164.5 279v1M165.5 261v20M166.5 240v21M167.5 224v16M168.5 226v2M169.5 228v5M170.5 233v11M171.5 244v12M172.5 256v7M173.5 246v12M174.5 233v13M175.5 227v6M176.5 224v3M177.5 223v1M178.5 223v2M179.5 225v1M180.5 225v2M181.5 223v2M182.5 224v2M183.5 223v1M184.5 222v1M185.5 221v1M186.5 221v2M187.5 222v1M188.5 222v3M189.5 225v2M190.5 223v2M191.5 222v2M192.5 224v1M193.5 225v1M194.5 225v1M195.5 225v1M196.5 225v1M197.5 225v2M198.5 226v2M199.5 225v3M200.5 228v2M201.5 228v1M202.5 227v1M203.5 226v1M204.5 225v1M205.5 224v2M206.5 226v2M207.5 228v1M208.5 229v1M209.5 229v1M210.5 228v1M211.5 228v1M212.5 227v2M213.5 227v4M214.5 227v1M215.5 227v2M216.5 225v2M217.5 224v2M218.5 225v3M219.5 223v3M220.5 226v3M221.5 229v1M222.5 229v1M223.5 230v1M224.5 231v2M225.5 233v2M226.5 235v1M227.5 235v7M228.5 242v7M229.5 249v3M230.5 252v3M231.5 255v3M232.5 257v1M233.5 256v2M234.5 258v2M235.5 259v1M236.5 257v2M237.5 254v3M238.5 253v1M239.5 252v1M240.5 252v1M241.5 251v1M242.5 251v1M243.5 252v2M244.5 253v2M245.5 255v2M246.5 257v1M247.5 258v2M248.5 260v1M249.5 259v2M250.5 261v1M251.5 261v1M252.5 262v2M253.5 263v1M254.5 262v1M255.5 262v3M256.5 261v2M257.5 261v1M258.5 259v2M259.5 258v1M260.5 256v2M261.5 254v2M262.5 252v2M263.5 247v5M264.5 241v6M265.5 234v7M266.5 230v4M267.5 229v1M268.5 228v2M269.5 226v2M270.5 226v1M271.5 225v3M272.5 223v4M273.5 227v3M274.5 228v1M275.5 227v1M276.5 225v2M277.5 223v2M278.5 221v2M279.5 219v2M280.5 219v1M281.5 218v3M282.5 216v2M283.5 218v3M284.5 221v3M285.5 224v3M286.5 227v6M287.5 233v9M288.5 242v19M289.5 261v22M290.5 279v2M291.5 277v2M292.5 275v2M293.5 274v2M294.5 273v1M295.5 273v1M296.5 272v2M297.5 271v1M298.5 272v2M299.5 274v2M300.5 276v1M301.5 276v1M302.5 275v1M303.5 275v2M304.5 277v1M305.5 277v2M306.5 279v1M307.5 278v1M308.5 279v1M309.5 279v1M310.5 279v2M311.5 281v1M312.5 281v3M313.5 284v2M314.5 285v1M315.5 285v2M316.5 286v1M317.5 287v1M318.5 287v1M319.5 287v1M320.5 287v2M321.5 286v1M322.5 286v1M323.5 286v2M324.5 288v2M325.5 288v2M326.5 290v1M327.5 290v2M328.5 292v1M329.5 293v1M330.5 293v1M331.5 293v1M332.5 292v1M333.5 291v2M334.5 290v1M335.5 289v2M336.5 291v1M337.5 291v1M338.5 292v1M339.5 292v1M340.5 291v2M341.5 292v2M342.5 290v2M343.5 287v3M344.5 287v2M345.5 286v1M346.5 287v2M347.5 289v2M348.5 291v2M349.5 291v1M350.5 291v1M351.5 291v1M352.5 289v2M353.5 288v1M354.5 287v2M355.5 286v1M356.5 285v1M357.5 285v1M358.5 286v1M359.5 287v1M360.5 288v2M361.5 290v1M362.5 290v2M363.5 292v3M364.5 295v2M365.5 295v3M366.5 289v6M367.5 285v4M368.5 284v1M369.5 284v1M370.5 283v1M371.5 283v2M372.5 285v2M373.5 285v1M374.5 285v1M375.5 286v3M376.5 287v3M377.5 290v2M378.5 290v1M379.5 291v1M380.5 292v1M381.5 291v2M382.5 293v1M383.5 294v1M384.5 294v1M385.5 295v1M386.5 294v2M387.5 296v1M388.5 294v2M389.5 290v4M390.5 284v6M391.5 276v8M392.5 267v9M393.5 261v6M394.5 258v3M395.5 257v1M396.5 256v1M397.5 256v1M398.5 255v1M399.5 254v3M400.5 256v1M401.5 256v2M402.5 258v2M403.5 259v1M404.5 260v1M405.5 259v2M406.5 261v1M407.5 261v2M408.5 263v2M409.5 264v1M410.5 264v1M411.5 263v1M412.5 263v1M413.5 262v1M414.5 262v2M415.5 261v1M416.5 261v1M417.5 260v1M418.5 259v3M419.5 259v2M420.5 261v1M421.5 261v1M422.5 260v1M423.5 261v1M424.5 261v7M425.5 268v6M426.5 273v4M427.5 277v3M428.5 279v1M429.5 279v1M430.5 279v3M431.5 282v4M432.5 286v3M433.5 289v1M434.5 289v1M435.5 290v3M436.5 293v1M437.5 292v1M438.5 293v1M439.5 291v2M440.5 290v1M441.5 291v1M442.5 291v1M443.5 291v1M444.5 291v1M445.5 291v1M446.5 291v1M447.5 291v2M448.5 293v1M449.5 292v2M450.5 294v2M451.5 296v1M452.5 296v1M453.5 296v2M454.5 295v1M455.5 295v1M456.5 293v3M457.5 291v2M458.5 292v2M459.5 291v1M460.5 290v1M461.5 291v1M462.5 291v1M463.5 292v1M464.5 293v1M465.5 294v1M466.5 295v1M467.5 296v1M468.5 297v2M469.5 299v1M470.5 300v1M471.5 299v2M472.5 297v2M473.5 291v6M474.5 269v22M475.5 249v20M476.5 241v8M477.5 237v4M478.5 234v3M479.5 232v2M480.5 232v2M481.5 231v1M482.5 231v1M483.5 230v1M484.5 229v1M485.5 228v3M486.5 228v2M487.5 227v1M488.5 226v2M489.5 225v1M490.5 224v1M491.5 224v1M492.5 223v1M493.5 222v1M494.5 221v1M495.5 222v1M496.5 222v1M497.5 221v3M498.5 222v1M499.5 223v1M500.5 224v3M501.5 225v1M502.5 226v2M503.5 226v3M504.5 228v1M505.5 228v1M506.5 228v1M507.5 228v1M508.5 227v2M509.5 226v1M510.5 225v2M511.5 227v1M512.5 226v2M513.5 225v2M514.5 227v2M515.5 228v1M516.5 228v1M517.5 228v1M518.5 228v1M519.5 228v1M520.5 227v3M521.5 226v2M522.5 228v2M523.5 228v1M524.5 228v4M525.5 232v3M526.5 235v3M527.5 238v2M528.5 240v1M529.5 241v1M530.5 242v1M531.5 242v2M532.5 244v1M533.5 242v2M534.5 243v1M535.5 243v1M536.5 244v1M537.5 245v1M538.5 246v1M539.5 245v2M540.5 247v2M541.5 248v1M542.5 248v1M543.5 249v2M544.5 251v2M545.5 253v2M546.5 255v2M547.5 256v1M548.5 255v2M549.5 254v2M550.5 253v1M551.5 251v2M552.5 250v1M553.5 248v2M554.5 247v1M555.5 248v1M556.5 248v1M557.5 249v1M558.5 250v1M559.5 248v2M560.5 247v1M561.5 247v1M562.5 247v2M563.5 246v1M564.5 246v1M565.5 247v1M566.5 248v1M567.5 249v1M568.5 250v1M569.5 251v1M570.5 251v2M571.5 250v2M572.5 252v2M573.5 252v1M574.5 253v2M575.5 254v2M576.5 253v1M577.5 254v1M578.5 255v1M579.5 254v1M580.5 253v1M581.5 252v2M582.5 251v1M583.5 251v1M584.5 249v2M585.5 247v2M586.5 247v1M587.5 247v1M588.5 247v1M589.5 246v1M590.5 245v1M591.5 246v1M592.5 247v1M593.5 248v1M594.5 249v1M595.5 249v2M596.5 248v1M597.5 248v1M598.5 248v1M599.5 248v1M600.5 247v2M601.5 249v1M602.5 248v1M603.5 249v1M604.5 248v2M605.5 250v2M606.5 249v3M607.5 246v8M608.5 243v3M609.5 245v2M610.5 246v1M611.5 247v2M612.5 249v1M613.5 249v2M614.5 251v1M615.5 251v1M616.5 252v1M617.5 253v3M618.5 256v3M619.5 259v3M620.5 262v3" stroke="#00eeee" stroke-width="1" fill="none" shape-rendering="crispEdges"/>
<path d="M54.5 246v1M55.5 245v2M56.5 243v3M57.5 246v2M58.5 246v1M59.5 245v1M60.5 245v2M61.5 244v1M62.5 245v1M63.5 246v1M64.5 246v1M65.5 245v1M66.5 245v1M67.5 244v1M68.5 245v2M69.5 246v2M70.5 245v1M71.5 245v1M72.5 244v1M73.5 245v1M74.5 245v1M75.5 244v1M76.5 245v2M77.5 247v1M78.5 246v1M79.5 245v1M80.5 245v1M81.5 245v1M82.5 245v2M83.5 246v2M84.5 244v2M85.5 245v1M86.5 245v2M87.5 244v2M88.5 246v1M89.5 245v1M90.5 245v1M91.5 244v2M92.5 245v2M93.5 244v2M94.5 246v2M95.5 244v2M96.5 245v1M97.5 244v1M98.5 245v1M99.5 245v1M100.5 244v1M101.5 244v2M102.5 245v2M103.5 244v1M104.5 244v2M105.5 246v1M106.5 246v1M107.5 245v2M108.5 244v2M109.5 246v1M110.5 245v1M111.5 244v2M112.5 246v1M113.5 245v2M114.5 244v1M115.5 245v1M116.5 245v1M117.5 246v1M118.5 245v2M119.5 244v2M120.5 246v2M121.5 245v2M122.5 244v1M123.5 244v1M124.5 245v2M125.5 246v2M126.5 244v2M127.5 245v1M128.5 246v1M129.5 245v1M130.5 246v1M131.5 245v1M132.5 245v1M133.5 246v1M134.5 245v1M135.5 245v1M136.5 244v1M137.5 245v1M138.5 245v2M139.5 246v2M140.5 245v1M141.5 244v2M142.5 245v3M143.5 243v4M144.5 247v3M145.5 244v3M146.5 245v1M147.5 246v1M148.5 246v1M149.5 246v1M150.5 245v2M151.5 247v1M152.5 245v3M153.5 243v2M154.5 245v2M155.5 245v2M156.5 244v1M157.5 245v1M158.5 245v2M159.5 244v1M160.5 244v2M161.5 245v2M162.5 244v2M163.5 246v1M164.5 245v1M165.5 245v1M166.5 245v1M167.5 245v1M168.5 245v1M169.5 245v1M170.5 246v1M171.5 246v1M172.5 245v2M173.5 244v1M174.5 245v1M175.5 246v1M176.5 246v2M177.5 245v1M178.5 245v1M179.5 244v1M180.5 245v1M181.5 245v2M182.5 243v3M183.5 246v2M184.5 245v1M185.5 245v2M186.5 243v2M187.5 245v2M188.5 246v1M189.5 246v1M190.5 245v1M191.5 244v1M192.5 245v1M193.5 246v1M194.5 247v1M195.5 246v1M196.5 246v1M197.5 245v1M198.5 246v1M199.5 245v2M200.5 244v2M201.5 246v2M202.5 244v2M203.5 246v1M204.5 245v2M205.5 244v1M206.5 245v2M207.5 246v2M208.5 244v2M209.5 244v2M210.5 246v1M211.5 246v1M212.5 246v2M213.5 245v1M214.5 245v1M215.5 246v1M216.5 245v1M217.5 244v2M218.5 246v2M219.5 245v1M220.5 245v1M221.5 246v1M222.5 245v1M223.5 244v2M224.5 246v1M225.5 246v2M226.5 245v1M227.5 244v1M228.5 245v2M229.5 247v1M230.5 246v1M231.5 245v1M232.5 245v1M233.5 246v1M234.5 246v1M235.5 246v1M236.5 245v1M237.5 245v1M238.5 244v2M239.5 246v1M240.5 246v1M241.5 245v2M242.5 246v2M243.5 244v2M244.5 244v1M245.5 245v1M246.5 245v2M247.5 247v1M248.5 246v1M249.5 245v1M250.5 245v2M251.5 246v2M252.5 244v2M253.5 244v1M254.5 245v1M255.5 245v2M256.5 244v2M257.5 246v1M258.5 245v1M259.5 245v1M260.5 245v1M261.5 246v1M262.5 245v1M263.5 245v2M264.5 244v2M265.5 246v2M266.5 245v1M267.5 245v1M268.5 244v2M269.5 246v2M270.5 245v1M271.5 246v1M272.5 245v1M273.5 244v1M274.5 245v1M275.5 246v1M276.5 246v1M277.5 245v1M278.5 245v1M279.5 244v2M280.5 246v1M281.5 245v1M282.5 245v1M283.5 245v2M284.5 244v2M285.5 245v2M286.5 244v2M287.5 245v2M288.5 244v2M289.5 246v2M290.5 244v2M291.5 245v2M292.5 246v2M293.5 244v2M294.5 244v1M295.5 245v1M296.5 246v1M297.5 245v2M298.5 246v2M299.5 244v3M300.5 246v3M301.5 243v3M302.5 245v3M303.5 246v3M304.5 244v2M305.5 246v1M306.5 245v1M307.5 245v2M308.5 244v2M309.5 246v1M310.5 246v1M311.5 245v2M312.5 244v2M313.5 246v1M314.5 246v1M315.5 245v1M316.5 245v1M317.5 245v2M318.5 244v2M319.5 246v2M320.5 246v2M321.5 245v1M322.5 245v1M323.5 245v1M324.5 245v1M325.5 244v1M326.5 244v2M327.5 245v2M328.5 244v1M329.5 244v2M330.5 246v1M331.5 245v2M332.5 244v2M333.5 246v2M334.5 246v1M335.5 246v1M336.5 246v1M337.5 246v1M338.5 246v1M339.5 246v1M340.5 245v1M341.5 246v1M342.5 245v1M343.5 246v1M344.5 246v1M345.5 246v1M346.5 245v1M347.5 244v1M348.5 244v2M349.5 246v2M350.5 244v2M351.5 245v1M352.5 246v1M353.5 245v1M354.5 245v1M355.5 244v1M356.5 245v2M357.5 247v1M358.5 246v1M359.5 245v1M360.5 245v1M361.5 245v2M362.5 243v3M363.5 246v2M364.5 246v1M365.5 245v1M366.5 244v2M367.5 246v1M368.5 246v1M369.5 245v1M370.5 245v2M371.5 244v2M372.5 246v2M373.5 245v1M374.5 244v2M375.5 246v2M376.5 244v2M377.5 244v2M378.5 246v2M379.5 246v1M380.5 245v2M381.5 246v2M382.5 244v2M383.5 244v1M384.5 245v1M385.5 244v2M386.5 243v3M387.5 246v3M388.5 243v3M389.5 245v2M390.5 245v1M391.5 246v1M392.5 245v1M393.5 244v1M394.5 245v1M395.5 245v1M396.5 246v1M397.5 245v1M398.5 246v1M399.5 245v1M400.5 245v1M401.5 246v1M402.5 246v2M403.5 244v2M404.5 243v2M405.5 245v1M406.5 245v2M407.5 244v1M408.5 245v1M409.5 246v1M410.5 245v1M411.5 246v1M412.5 245v2M413.5 246v2M414.5 244v2M415.5 244v2M416.5 245v3M417.5 243v3M418.5 246v3M419.5 243v3M420.5 245v2M421.5 245v1M422.5 244v1M423.5 245v1M424.5 245v1M425.5 245v1M426.5 246v1M427.5 245v2M428.5 243v3M429.5 246v3M430.5 246v1M431.5 246v1M432.5 246v1M433.5 245v1M434.5 245v1M435.5 245v2M436.5 247v1M437.5 246v1M438.5 245v1M439.5 246v1M440.5 245v2M441.5 243v2M442.5 244v1M443.5 245v1M444.5 246v1M445.5 245v1M446.5 244v1M447.5 245v1M448.5 245v2M449.5 246v2M450.5 244v2M451.5 246v2M452.5 244v2M453.5 246v1M454.5 245v1M455.5 246v1M456.5 245v1M457.5 244v2M458.5 246v1M459.5 246v1M460.5 246v1M461.5 246v1M462.5 245v1M463.5 246v1M464.5 246v2M465.5 245v1M466.5 245v1M467.5 245v1M468.5 246v1M469.5 246v1M470.5 245v2M471.5 244v2M472.5 245v2M473.5 244v1M474.5 245v1M475.5 244v2M476.5 246v1M477.5 245v1M478.5 244v1M479.5 245v1M480.5 244v2M481.5 246v1M482.5 245v2M483.5 244v1M484.5 244v1M485.5 245v1M486.5 245v1M487.5 245v1M488.5 245v1M489.5 246v1M490.5 245v3M491.5 243v3M492.5 246v2M493.5 246v1M494.5 245v1M495.5 245v2M496.5 244v2M497.5 246v1M498.5 246v1M499.5 244v2M500.5 243v3M501.5 246v2M502.5 244v2M503.5 244v2M504.5 246v2M505.5 245v2M506.5 244v2M507.5 245v3M508.5 243v3M509.5 246v2M510.5 246v1M511.5 246v1M512.5 246v1M513.5 246v1M514.5 245v1M515.5 244v1M516.5 245v2M517.5 247v1M518.5 245v2M519.5 244v2M520.5 246v2M521.5 244v2M522.5 246v2M523.5 245v1M524.5 245v1M525.5 246v1M526.5 246v1M527.5 246v1M528.5 245v1M529.5 245v1M530.5 245v1M531.5 245v2M532.5 244v2M533.5 246v2M534.5 245v2M535.5 244v1M536.5 245v1M537.5 246v1M538.5 246v2M539.5 244v2M540.5 245v1M541.5 245v1M542.5 246v1M543.5 245v1M544.5 244v1M545.5 245v1M546.5 246v1M547.5 246v1M548.5 246v2M549.5 244v2M550.5 244v1M551.5 244v1M552.5 245v2M553.5 247v1M554.5 246v1M555.5 245v3M556.5 243v3M557.5 246v2M558.5 245v1M559.5 244v1M560.5 245v1M561.5 246v1M562.5 246v1M563.5 246v1M564.5 246v1M565.5 246v1M566.5 246v1M567.5 245v1M568.5 245v1M569.5 245v2M570.5 244v2M571.5 245v2M572.5 244v1M573.5 245v1M574.5 245v1M575.5 244v3M576.5 246v3M577.5 243v3M578.5 245v2M579.5 247v1M580.5 245v2M581.5 244v1M582.5 245v1M583.5 246v1M584.5 245v2M585.5 245v3M586.5 242v4M587.5 246v3M588.5 245v2M589.5 245v1M590.5 245v1M591.5 244v2M592.5 246v1M593.5 245v1M594.5 246v1M595.5 245v2M596.5 243v3M597.5 246v2M598.5 245v1M599.5 246v1M600.5 245v2M601.5 244v2M602.5 246v1M603.5 245v2M604.5 244v1M605.5 245v2M606.5 246v2M607.5 245v1M608.5 245v2M609.5 244v1M610.5 244v1M611.5 245v1M612.5 245v2M613.5 244v2M614.5 246v2M615.5 244v2M616.5 246v1M617.5 245v2M618.5 244v1M619.5 245v1M620.5 245v1M621.5 246v1" stroke="#c04000" stroke-width="1" fill="none" shape-rendering="crispEdges"/>
<path d="M54.5 231v1M55.5 231v2M56.5 230v2M57.5 231v3M58.5 229v2M59.5 231v2M60.5 229v2M61.5 230v2M62.5 231v3M63.5 229v2M64.5 229v1M65.5 230v1M66.5 231v1M67.5 230v1M68.5 230v2M69.5 229v2M70.5 231v1M71.5 230v2M72.5 232v1M73.5 231v2M74.5 229v2M75.5 231v1M76.5 232v1M77.5 232v1M78.5 231v1M79.5 231v1M80.5 231v1M81.5 230v1M82.5 230v1M83.5 231v1M84.5 230v1M85.5 231v1M86.5 232v1M87.5 231v3M88.5 229v2M89.5 231v1M90.5 230v2M91.5 232v1M92.5 232v1M93.5 233v1M94.5 232v1M95.5 231v2M96.5 229v2M97.5 231v2M98.5 231v2M99.5 229v2M100.5 230v1M101.5 230v1M102.5 230v2M103.5 229v3M104.5 232v2M105.5 230v2M106.5 230v1M107.5 230v1M108.5 230v2M109.5 232v2M110.5 231v2M111.5 230v1M112.5 231v1M113.5 231v1M114.5 231v2M115.5 230v2M116.5 232v2M117.5 230v2M118.5 229v2M119.5 231v1M120.5 231v1M121.5 231v2M122.5 229v2M123.5 230v2M124.5 232v1M125.5 231v2M126.5 230v1M127.5 231v1M128.5 231v2M129.5 230v1M130.5 229v2M131.5 231v1M132.5 230v3M133.5 228v2M134.5 230v2M135.5 232v2M136.5 232v3M137.5 229v3M138.5 231v1M139.5 230v1M140.5 231v1M141.5 230v1M142.5 230v2M143.5 231v2M144.5 230v1M145.5 230v2M146.5 229v3M147.5 232v2M148.5 231v2M149.5 230v1M150.5 230v1M151.5 231v1M152.5 230v2M153.5 230v4M154.5 227v3M155.5 230v2M156.5 232v1M157.5 231v1M158.5 231v1M159.5 230v1M160.5 230v2M161.5 232v1M162.5 232v1M163.5 231v1M164.5 231v2M165.5 230v2M166.5 232v1M167.5 230v2M168.5 229v2M169.5 231v2M170.5 231v3M171.5 229v3M172.5 232v2M173.5 230v2M174.5 230v1M175.5 231v1M176.5 231v1M177.5 230v2M178.5 231v3M179.5 228v4M180.5 232v4M181.5 230v3M182.5 231v1M183.5 230v2M184.5 231v3M185.5 229v3M186.5 232v2M187.5 231v2M188.5 229v2M189.5 231v1M190.5 232v1M191.5 233v1M192.5 232v1M193.5 231v1M194.5 231v1M195.5 231v1M196.5 231v1M197.5 232v1M198.5 232v1M199.5 230v2M200.5 229v3M201.5 232v2M202.5 231v2M203.5 230v2M204.5 232v2M205.5 230v2M206.5 231v1M207.5 230v1M208.5 230v2M209.5 231v2M210.5 230v1M211.5 230v1M212.5 230v1M213.5 231v1M214.5 231v1M215.5 231v1M216.5 231v2M217.5 233v1M218.5 232v2M219.5 230v2M220.5 232v1M221.5 231v2M222.5 232v2M223.5 230v2M224.5 229v2M225.5 231v2M226.5 233v1M227.5 231v2M228.5 230v1M229.5 229v3M230.5 232v3M231.5 229v3M232.5 230v2M233.5 232v1M234.5 231v2M235.5 230v2M236.5 232v1M237.5 231v1M238.5 230v1M239.5 231v1M240.5 230v1M241.5 230v2M242.5 232v2M243.5 230v2M244.5 232v2M245.5 230v2M246.5 231v3M247.5 229v3M248.5 232v2M249.5 231v1M250.5 231v1M251.5 232v1M252.5 231v1M253.5 231v1M254.5 231v1M255.5 230v2M256.5 232v1M257.5 231v1M258.5 231v2M259.5 230v2M260.5 232v2M261.5 230v2M262.5 232v1M263.5 232v1M264.5 230v2M265.5 229v3M266.5 232v2M267.5 230v2M268.5 230v1M269.5 231v1M270.5 231v2M271.5 231v3M272.5 229v2M273.5 231v2M274.5 232v1M275.5 232v1M276.5 231v1M277.5 230v2M278.5 232v2M279.5 230v2M280.5 231v2M281.5 232v2M282.5 230v2M283.5 231v2M284.5 232v3M285.5 230v2M286.5 232v2M287.5 231v2M288.5 230v2M289.5 232v2M290.5 231v1M291.5 230v2M292.5 229v3M293.5 232v3M294.5 232v1M295.5 232v1M296.5 231v1M297.5 231v1M298.5 231v1M299.5 232v1M300.5 231v2M301.5 230v1M302.5 229v2M303.5 231v1M304.5 232v1M305.5 232v2M306.5 230v2M307.5 232v2M308.5 230v2M309.5 231v2M310.5 230v1M311.5 230v2M312.5 232v1M313.5 231v3M314.5 229v3M315.5 232v2M316.5 233v1M317.5 233v1M318.5 230v3M319.5 228v3M320.5 231v3M321.5 231v1M322.5 231v1M323.5 230v1M324.5 231v2M325.5 233v2M326.5 231v2M327.5 230v2M328.5 230v3M329.5 228v3M330.5 231v2M331.5 231v2M332.5 232v2M333.5 230v2M334.5 229v3M335.5 232v2M336.5 232v1M337.5 232v1M338.5 231v1M339.5 231v2M340.5 230v2M341.5 232v1M342.5 231v1M343.5 232v1M344.5 232v1M345.5 231v2M346.5 230v2M347.5 232v2M348.5 232v4M349.5 229v3M350.5 231v2M351.5 232v2M352.5 231v3M353.5 233v3M354.5 231v2M355.5 232v1M356.5 232v1M357.5 232v1M358.5 232v1M359.5 232v1M360.5 232v2M361.5 230v2M362.5 232v1M363.5 231v1M364.5 231v2M365.5 231v3M366.5 228v4M367.5 232v3M368.5 230v2M369.5 231v2M370.5 232v3M371.5 230v3M372.5 232v3M373.5 230v2M374.5 232v2M375.5 230v2M376.5 232v1M377.5 231v2M378.5 232v2M379.5 230v2M380.5 229v3M381.5 231v3M382.5 229v2M383.5 231v2M384.5 233v1M385.5 232v1M386.5 232v2M387.5 231v1M388.5 232v1M389.5 232v1M390.5 231v1M391.5 232v1M392.5 232v2M393.5 231v2M394.5 232v2M395.5 230v2M396.5 229v3M397.5 232v3M398.5 232v1M399.5 232v1M400.5 232v1M401.5 232v1M402.5 231v1M403.5 231v2M404.5 232v2M405.5 231v1M406.5 230v2M407.5 232v1M408.5 231v2M409.5 230v2M410.5 232v2M411.5 232v2M412.5 230v2M413.5 232v2M414.5 232v1M415.5 232v1M416.5 231v2M417.5 233v1M418.5 232v1M419.5 232v1M420.5 232v1M421.5 233v1M422.5 232v3M423.5 230v2M424.5 231v1M425.5 230v3M426.5 232v3M427.5 230v3M428.5 233v2M429.5 232v1M430.5 231v1M431.5 231v2M432.5 230v3M433.5 233v2M434.5 232v2M435.5 231v2M436.5 231v3M437.5 229v3M438.5 232v3M439.5 232v1M440.5 231v2M441.5 233v1M442.5 233v1M443.5 232v1M444.5 231v2M445.5 233v1M446.5 233v1M447.5 231v2M448.5 230v2M449.5 232v1M450.5 231v1M451.5 231v1M452.5 231v2M453.5 230v1M454.5 231v2M455.5 233v2M456.5 232v1M457.5 231v1M458.5 232v2M459.5 233v2M460.5 232v1M461.5 231v1M462.5 232v1M463.5 231v1M464.5 230v1M465.5 231v2M466.5 233v2M467.5 231v3M468.5 229v3M469.5 232v3M470.5 231v2M471.5 230v2M472.5 232v2M473.5 231v3M474.5 229v2M475.5 231v2M476.5 231v2M477.5 230v2M478.5 232v1M479.5 231v1M480.5 231v2M481.5 230v2M482.5 232v1M483.5 232v1M484.5 232v1M485.5 233v1M486.5 231v2M487.5 229v4M488.5 233v3M489.5 232v2M490.5 233v2M491.5 231v2M492.5 232v3M493.5 230v2M494.5 230v2M495.5 232v2M496.5 232v2M497.5 230v3M498.5 233v2M499.5 232v1M500.5 231v2M501.5 233v1M502.5 232v1M503.5 233v1M504.5 233v1M505.5 233v1M506.5 232v2M507.5 230v3M508.5 232v3M509.5 230v3M510.5 233v2M511.5 232v1M512.5 232v2M513.5 233v2M514.5 231v2M515.5 233v1M516.5 233v2M517.5 231v2M518.5 230v1M519.5 231v1M520.5 230v2M521.5 232v2M522.5 233v1M523.5 232v1M524.5 231v2M525.5 233v2M526.5 232v2M527.5 231v2M528.5 233v2M529.5 232v1M530.5 232v1M531.5 231v1M532.5 231v1M533.5 232v1M534.5 233v1M535.5 233v1M536.5 232v1M537.5 231v2M538.5 233v1M539.5 233v1M540.5 232v1M541.5 231v3M542.5 229v4M543.5 233v3M544.5 230v3M545.5 233v2M546.5 233v2M547.5 231v2M548.5 229v2M549.5 231v1M550.5 231v2M551.5 233v2M552.5 232v1M553.5 232v2M554.5 231v2M555.5 233v2M556.5 233v1M557.5 233v1M558.5 232v1M559.5 232v1M560.5 231v1M561.5 231v2M562.5 232v2M563.5 231v1M564.5 231v2M565.5 233v2M566.5 230v3M567.5 229v2M568.5 231v2M569.5 233v2M570.5 232v3M571.5 230v2M572.5 232v2M573.5 232v2M574.5 230v2M575.5 232v2M576.5 230v2M577.5 232v1M578.5 232v1M579.5 231v2M580.5 233v1M581.5 232v1M582.5 233v1M583.5 232v2M584.5 230v3M585.5 233v2M586.5 232v2M587.5 231v2M588.5 233v1M589.5 233v1M590.5 233v1M591.5 232v3M592.5 230v2M593.5 232v2M594.5 230v3M595.5 233v2M596.5 231v2M597.5 232v1M598.5 233v1M599.5 232v2M600.5 230v2M601.5 232v2M602.5 231v1M603.5 232v1M604.5 231v2M605.5 233v2M606.5 231v3M607.5 229v2M608.5 231v3M609.5 234v1M610.5 232v2M611.5 231v1M612.5 232v1M613.5 232v1M614.5 232v1M615.5 231v2M616.5 232v2M617.5 231v1M618.5 232v1M619.5 232v1M620.5 231v2M621.5 233v2" stroke="#eeee00" stroke-width="1" fill="none" shape-rendering="crispEdges"/>
<path d="M54.5 218v1M55.5 217v1M56.5 217v1M57.5 217v2M58.5 218v2M59.5 216v3M60.5 218v3M61.5 216v2M62.5 217v1M63.5 218v1M64.5 217v1M65.5 216v2M66.5 218v2M67.5 217v2M68.5 217v3M69.5 215v2M70.5 217v3M71.5 219v2M72.5 217v2M73.5 215v3M74.5 218v3M75.5 217v2M76.5 217v1M77.5 217v1M78.5 218v1M79.5 218v1M80.5 218v1M81.5 217v1M82.5 218v1M83.5 217v2M84.5 216v1M85.5 217v2M86.5 218v2M87.5 216v2M88.5 218v1M89.5 218v2M90.5 217v1M91.5 217v1M92.5 217v1M93.5 218v1M94.5 217v2M95.5 216v1M96.5 217v2M97.5 217v3M98.5 215v2M99.5 217v2M100.5 218v1M101.5 217v2M102.5 216v2M103.5 218v1M104.5 217v1M105.5 217v1M106.5 217v1M107.5 217v1M108.5 217v2M109.5 219v1M110.5 218v1M111.5 217v2M112.5 216v2M113.5 218v2M114.5 218v2M115.5 216v2M116.5 218v1M117.5 218v1M118.5 218v1M119.5 217v1M120.5 217v2M121.5 216v2M122.5 218v2M123.5 218v1M124.5 217v1M125.5 218v1M126.5 218v1M127.5 217v1M128.5 216v2M129.5 218v2M130.5 216v2M131.5 218v2M132.5 217v2M133.5 215v3M134.5 218v3M135.5 216v2M136.5 218v2M137.5 217v1M138.5 216v2M139.5 218v2M140.5 216v3M141.5 218v3M142.5 216v2M143.5 218v1M144.5 218v1M145.5 219v1M146.5 217v2M147.5 216v2M148.5 218v2M149.5 219v3M150.5 217v2M151.5 217v2M152.5 219v1M153.5 218v2M154.5 217v1M155.5 216v2M156.5 218v1M157.5 217v1M158.5 218v1M159.5 218v1M160.5 218v1M161.5 218v2M162.5 217v1M163.5 216v2M164.5 218v2M165.5 218v1M166.5 218v1M167.5 218v1M168.5 218v1M169.5 217v1M170.5 216v2M171.5 218v2M172.5 217v1M173.5 217v1M174.5 218v1M175.5 218v1M176.5 217v1M177.5 217v1M178.5 217v1M179.5 217v2M180.5 218v2M181.5 216v2M182.5 218v2M183.5 217v2M184.5 216v1M185.5 217v1M186.5 216v2M187.5 218v2M188.5 218v1M189.5 219v1M190.5 218v1M191.5 217v1M192.5 217v1M193.5 217v1M194.5 217v1M195.5 217v1M196.5 218v1M197.5 218v2M198.5 217v2M199.5 219v1M200.5 218v1M201.5 217v2M202.5 216v2M203.5 218v2M204.5 217v1M205.5 217v1M206.5 217v2M207.5 219v1M208.5 217v3M209.5 215v3M210.5 218v3M211.5 220v1M212.5 218v2M213.5 216v2M214.5 218v1M215.5 218v1M216.5 218v1M217.5 217v2M218.5 219v1M219.5 217v2M220.5 216v2M221.5 218v2M222.5 218v1M223.5 218v1M224.5 217v2M225.5 218v2M226.5 216v2M227.5 218v1M228.5 217v2M229.5 219v1M230.5 218v2M231.5 216v2M232.5 217v2M233.5 219v1M234.5 218v1M235.5 217v1M236.5 217v2M237.5 216v2M238.5 218v2M239.5 217v1M240.5 218v1M241.5 217v2M242.5 218v2M243.5 216v3M244.5 219v2M245.5 218v1M246.5 217v2M247.5 216v1M248.5 217v1M249.5 217v1M250.5 218v2M251.5 220v1M252.5 219v1M253.5 218v1M254.5 217v2M255.5 218v2M256.5 217v1M257.5 217v1M258.5 218v1M259.5 218v1M260.5 218v1M261.5 218v1M262.5 217v1M263.5 217v1M264.5 217v2M265.5 216v2M266.5 218v2M267.5 218v1M268.5 217v2M269.5 218v2M270.5 217v2M271.5 218v2M272.5 216v2M273.5 218v1M274.5 218v1M275.5 218v1M276.5 217v2M277.5 216v2M278.5 218v1M279.5 219v1M280.5 218v1M281.5 218v1M282.5 218v1M283.5 217v1M284.5 218v1M285.5 217v1M286.5 217v1M287.5 216v2M288.5 218v2M289.5 218v2M290.5 216v2M291.5 218v2M292.5 219v2M293.5 218v1M294.5 218v1M295.5 218v1M296.5 218v1M297.5 217v2M298.5 217v3M299.5 214v4M300.5 218v3M301.5 218v1M302.5 218v1M303.5 218v1M304.5 217v2M305.5 219v1M306.5 217v2M307.5 216v2M308.5 218v2M309.5 217v1M310.5 217v2M311.5 218v2M312.5 216v2M313.5 218v1M314.5 217v1M315.5 216v1M316.5 217v2M317.5 219v1M318.5 218v1M319.5 217v2M320.5 216v3M321.5 219v2M322.5 218v1M323.5 219v1M324.5 218v2M325.5 217v1M326.5 217v2M327.5 216v1M328.5 216v2M329.5 218v1M330.5 218v2M331.5 216v2M332.5 218v1M333.5 217v2M334.5 218v2M335.5 217v1M336.5 218v1M337.5 218v1M338.5 217v2M339.5 216v2M340.5 218v1M341.5 219v1M342.5 218v1M343.5 218v1M344.5 218v1M345.5 216v2M346.5 215v3M347.5 218v3M348.5 217v2M349.5 218v1M350.5 218v1M351.5 217v1M352.5 217v2M353.5 218v2M354.5 216v2M355.5 218v2M356.5 217v2M357.5 216v1M358.5 217v1M359.5 218v1M360.5 218v1M361.5 217v2M362.5 216v2M363.5 218v1M364.5 217v1M365.5 217v2M366.5 218v2M367.5 217v1M368.5 217v1M369.5 217v2M370.5 216v1M371.5 217v2M372.5 217v3M373.5 215v2M374.5 217v2M375.5 218v2M376.5 216v2M377.5 217v2M378.5 215v2M379.5 217v3M380.5 218v4M381.5 215v3M382.5 218v2M383.5 217v2M384.5 216v2M385.5 218v2M386.5 216v2M387.5 217v1M388.5 218v1M389.5 218v1M390.5 217v1M391.5 217v2M392.5 218v3M393.5 216v2M394.5 218v2M395.5 217v2M396.5 219v1M397.5 218v1M398.5 218v2M399.5 217v1M400.5 217v1M401.5 216v2M402.5 218v2M403.5 217v2M404.5 219v2M405.5 218v1M406.5 217v1M407.5 218v1M408.5 218v1M409.5 217v2M410.5 219v1M411.5 218v1M412.5 217v1M413.5 218v1M414.5 217v2M415.5 219v1M416.5 218v1M417.5 218v1M418.5 218v2M419.5 217v1M420.5 216v1M421.5 217v2M422.5 219v1M423.5 218v1M424.5 218v1M425.5 214v5M426.5 210v5M427.5 215v4M428.5 218v1M429.5 217v2M430.5 219v1M431.5 218v1M432.5 218v2M433.5 217v1M434.5 216v1M435.5 217v2M436.5 219v1M437.5 218v2M438.5 217v1M439.5 217v1M440.5 218v1M441.5 217v1M442.5 217v1M443.5 217v1M444.5 218v1M445.5 218v2M446.5 217v1M447.5 217v1M448.5 218v1M449.5 218v2M450.5 217v1M451.5 217v1M452.5 218v1M453.5 218v1M454.5 218v1M455.5 217v1M456.5 217v1M457.5 218v1M458.5 218v2M459.5 216v2M460.5 217v2M461.5 219v1M462.5 218v1M463.5 218v1M464.5 218v1M465.5 217v1M466.5 218v1M467.5 217v2M468.5 219v1M469.5 218v1M470.5 218v1M471.5 217v1M472.5 217v1M473.5 218v1M474.5 218v1M475.5 218v2M476.5 217v1M477.5 217v2M478.5 216v1M479.5 217v1M480.5 218v1M481.5 219v1M482.5 218v2M483.5 217v1M484.5 217v1M485.5 217v1M486.5 217v2M487.5 218v3M488.5 215v3M489.5 217v2M490.5 217v1M491.5 218v1M492.5 218v1M493.5 217v1M494.5 217v2M495.5 215v3M496.5 218v2M497.5 217v2M498.5 219v1M499.5 218v1M500.5 219v1M501.5 218v1M502.5 217v1M503.5 217v1M504.5 217v1M505.5 217v1M506.5 217v1M507.5 218v1M508.5 218v2M509.5 216v3M510.5 219v2M511.5 217v2M512.5 217v2M513.5 216v2M514.5 218v2M515.5 216v2M516.5 218v2M517.5 217v1M518.5 218v1M519.5 217v1M520.5 218v1M521.5 219v1M522.5 217v2M523.5 216v2M524.5 218v1M525.5 217v1M526.5 218v1M527.5 218v2M528.5 216v2M529.5 218v1M530.5 218v1M531.5 218v1M532.5 219v1M533.5 218v2M534.5 217v2M535.5 219v2M536.5 217v2M537.5 216v1M538.5 217v2M539.5 219v2M540.5 218v1M541.5 218v2M542.5 216v3M543.5 218v3M544.5 216v2M545.5 217v1M546.5 218v1M547.5 218v1M548.5 217v1M549.5 217v1M550.5 218v1M551.5 219v1M552.5 219v1M553.5 218v1M554.5 217v2M555.5 219v2M556.5 217v2M557.5 216v3M558.5 219v2M559.5 218v1M560.5 218v2M561.5 216v2M562.5 218v1M563.5 218v1M564.5 217v1M565.5 218v1M566.5 218v2M567.5 217v1M568.5 218v1M569.5 219v1M570.5 217v2M571.5 216v2M572.5 218v2M573.5 217v1M574.5 217v1M575.5 218v1M576.5 219v1M577.5 219v1M578.5 218v2M579.5 216v2M580.5 218v2M581.5 217v2M582.5 218v2M583.5 217v2M584.5 219v1M585.5 218v2M586.5 216v2M587.5 218v1M588.5 219v1M589.5 217v2M590.5 216v1M591.5 217v2M592.5 219v1M593.5 217v2M594.5 216v3M595.5 219v2M596.5 217v2M597.5 218v1M598.5 218v1M599.5 217v2M600.5 219v1M601.5 219v1M602.5 218v1M603.5 217v1M604.5 217v1M605.5 217v1M606.5 218v1M607.5 218v1M608.5 218v1M609.5 218v1M610.5 218v1M611.5 218v1M612.5 219v1M613.5 218v1M614.5 219v1M615.5 218v1M616.5 218v1M617.5 217v2M618.5 216v3M619.5 219v2M620.5 217v2M621.5 217v1" stroke="#2020c0" stroke-width="1" fill="none" shape-rendering="crispEdges"/>
</svg></body></html>
